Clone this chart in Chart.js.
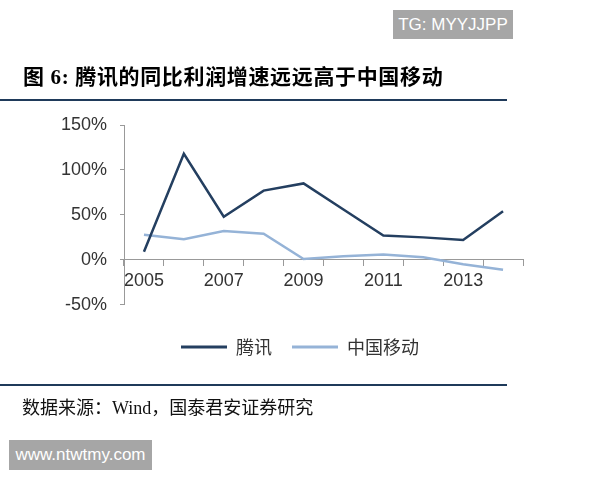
<!DOCTYPE html>
<html>
<head>
<meta charset="utf-8">
<script src="https://cdn.jsdelivr.net/npm/chart.js@4"></script>
<style>
  body { margin: 0; background: #fff; }
  #wrap { position: relative; width: 600px; height: 480px; overflow: hidden; }
  #myLine { position: absolute; left: 0; top: 0; }
  .title { position: absolute; left: 23px; top: 60px; font: bold 21px "Liberation Serif", "Noto Sans CJK SC"; letter-spacing: 0.65px; color: #000; white-space: nowrap; }
  .rule { position: absolute; left: 0; width: 507px; height: 2px; background: #1f3a5a; }
  .source { position: absolute; left: 22px; top: 393px; font: 18px "Liberation Serif", "Noto Sans CJK SC"; color: #111; white-space: nowrap; }
  .mark { position: absolute; background: #a6a6a6; color: #fff; font: 17px "Liberation Sans"; line-height: 29px; text-align: center; }
</style>
</head>
<body>
<div id="wrap">
  <canvas id="myLine" width="600" height="480"></canvas>
  <div class="mark" style="left:393px;top:10px;width:120px;height:29px;">TG: MYYJJPP</div>
  <div class="title">图 6: 腾讯的同比利润增速远远高于中国移动</div>
  <div class="rule" style="top:99px"></div>
  <div class="rule" style="top:384px"></div>
  <div class="source">数据来源：Wind，国泰君安证券研究</div>
  <div class="mark" style="left:9px;top:440px;width:143px;height:30px;">www.ntwtmy.com</div>
</div>
<script>
// 年份
var years = ['2005', '2006', '2007', '2008', '2009', '2010', '2011', '2012', '2013', '2014']
// 同比利润增速 (%)
var tencent = [9, 118, 48, 77, 85, 56, 27, 25, 22, 54]
var chinaMobile = [28, 23, 32, 29, 1, 4, 6, 3, -5, -11]
var yTicks = [-50, 0, 50, 100, 150]

const ctx = document.getElementById('myLine');
const data = {
    labels: years,
    datasets: [{
        label: '腾讯',
        data: tencent,
        borderColor: '#243f60',
        backgroundColor: '#243f60',
        borderWidth: 2.5,
        pointRadius: 0,
        tension: 0
    }, {
        label: '中国移动',
        data: chinaMobile,
        borderColor: '#95b3d7',
        backgroundColor: '#95b3d7',
        borderWidth: 2.5,
        pointRadius: 0,
        tension: 0
    }]
};
const config = {
    type: 'line',
    data: data,
    options: {
        responsive: false,
        animation: false,
        layout: { padding: { left: 0, right: 0, top: 125, bottom: 114 } },
        plugins: {
            tooltip: { enabled: false },
            legend: {
                position: 'bottom',
                title: { display: true, text: '', font: { size: 1 }, padding: { top: 12, bottom: 0 } },
                labels: {
                    boxWidth: 46,
                    boxHeight: 3,
                    padding: 20,
                    color: '#333',
                    font: { family: 'Noto Sans CJK SC', size: 18 },
                    generateLabels: function (chart) {
                        return Chart.defaults.plugins.legend.labels.generateLabels(chart).map(l => {
                            l.lineWidth = 0
                            return l
                        })
                    }
                }
            }
        },
        scales: {
            x: {
                type: 'category',
                position: { y: 0 },
                offset: true,
                grid: { offset: true, drawOnChartArea: false, tickLength: 6, color: '#999' },
                border: { color: '#999' },
                ticks: {
                    autoSkip: false,
                    maxRotation: 0,
                    padding: 4,
                    color: '#333',
                    font: { family: 'Liberation Sans', size: 18 },
                    callback: function (v, i) { return i % 2 === 0 ? years[i] : '' }
                }
            },
            y: {
                min: -50,
                max: 150,
                afterFit: function (scale) { scale.width = 124 },
                afterBuildTicks: function (scale) { scale.ticks = yTicks.map(v => ({ value: v })) },
                grid: { drawOnChartArea: false, tickLength: 4, color: '#999' },
                border: { color: '#999' },
                ticks: {
                    padding: 13,
                    color: '#333',
                    font: { family: 'Liberation Sans', size: 18 },
                    callback: function (v) { return v + '%' }
                }
            },
            // empty right-side space so the legend centres on the page
            yRight: {
                position: 'right',
                min: -50,
                max: 150,
                afterFit: function (scale) { scale.width = 77 },
                grid: { display: false },
                border: { display: false },
                ticks: { display: false }
            }
        }
    }
};
const myChart = new Chart(ctx, config);
</script>
</body>
</html>
